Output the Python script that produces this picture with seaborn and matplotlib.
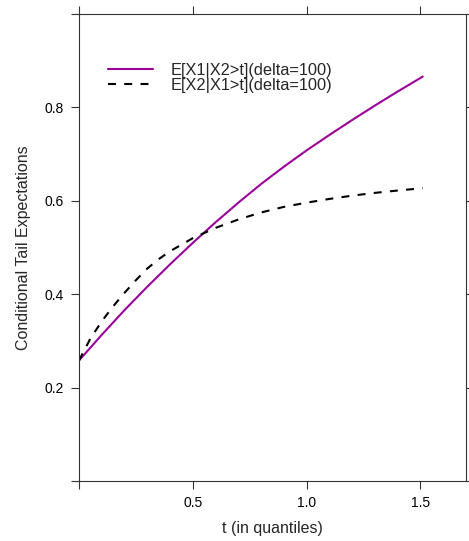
import numpy as np
import pandas as pd
import matplotlib
matplotlib.use("Agg")
import matplotlib.pyplot as plt
import seaborn as sns

# Data
t_x1 = [0.0, 0.1, 0.2, 0.3, 0.4, 0.5, 0.6, 0.7, 0.8, 0.9, 1.0, 1.1, 1.2, 1.3, 1.4, 1.51]
v_x1 = [0.258, 0.313, 0.366, 0.416, 0.464, 0.510, 0.554, 0.596, 0.636, 0.673,
        0.708, 0.741, 0.773, 0.804, 0.834, 0.866]
t_x2 = [0.0, 0.05, 0.1, 0.15, 0.2, 0.25, 0.3, 0.35, 0.4, 0.5, 0.6, 0.7, 0.8, 0.9,
        1.0, 1.1, 1.2, 1.3, 1.4, 1.51]
v_x2 = [0.258, 0.305, 0.342, 0.374, 0.403, 0.430, 0.455, 0.475, 0.492, 0.520, 0.542,
        0.560, 0.575, 0.587, 0.596, 0.604, 0.611, 0.617, 0.622, 0.627]
labels = ["E[X1|X2>t](delta=100)", "E[X2|X1>t](delta=100)"]
x_ticks = [0.0, 0.5, 1.0, 1.5]
x_ticklabels = ["", "0.5", "1.0", "1.5"]
y_ticks = [0.0, 0.2, 0.4, 0.6, 0.8, 1.0]
y_ticklabels = ["", "0.2", "0.4", "0.6", "0.8", ""]

sns.set_theme(style="white")
plt.rcParams['font.family'] = ['Liberation Sans', 'DejaVu Sans']

fig = plt.figure(figsize=(4.69, 5.41), dpi=100)
ax = fig.add_axes([79/469, 1 - 481/541, (466-79)/469, (481-14)/541])

df1 = pd.DataFrame({"t": t_x1, "v": v_x1})
df2 = pd.DataFrame({"t": t_x2, "v": v_x2})
sns.lineplot(data=df1, x="t", y="v", ax=ax, color="#9A009A", linewidth=1.5,
             label=labels[0])
sns.lineplot(data=df2, x="t", y="v", ax=ax, color="black", linewidth=1.5,
             label=labels[1])
ax.lines[1].set_dashes((3.8, 4.0))

ax.set_xlim(0, 1.70)
ax.set_ylim(0, 1.0)
ax.set_xticks(x_ticks)
ax.set_xticklabels(x_ticklabels)
ax.set_yticks(y_ticks)
ax.set_yticklabels(y_ticklabels)
ax.tick_params(direction="out", length=5.8, width=0.8, color="#333333",
               labelsize=10, labelcolor="black", pad=5,
               top=True, right=True, bottom=True, left=True,
               labeltop=False, labelright=False)
for s in ax.spines.values():
    s.set_color("#333333")
    s.set_linewidth(0.8)

ax.set_xlabel("t (in quantiles)", fontsize=11.5, labelpad=8)
ax.set_ylabel("Conditional Tail Expectations", fontsize=11.5, labelpad=10)

leg = ax.legend(loc="upper left", bbox_to_anchor=(0.058, 0.909), frameon=False,
                fontsize=11.8, handlelength=2.75, handletextpad=1.1,
                labelspacing=0.0, borderaxespad=0)
leg.get_lines()[1].set_dashes((3.8, 4.0))

fig.savefig("out.png", dpi=100)
